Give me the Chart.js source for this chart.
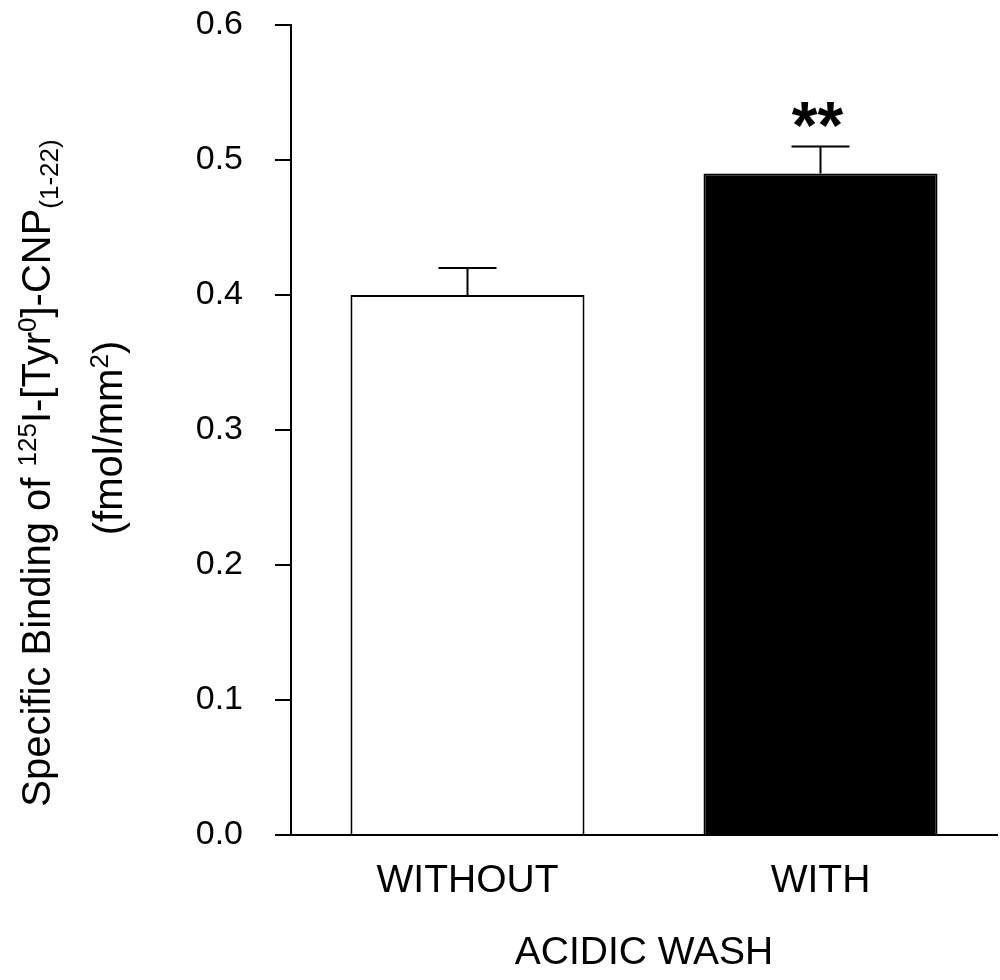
<!DOCTYPE html>
<html>
<head>
<meta charset="utf-8">
<script src="https://cdn.jsdelivr.net/npm/chart.js@4.4.0/dist/chart.umd.min.js"></script>
<style>
    html, body { margin: 0; padding: 0; background: #fff; }
    #wrap { width: 1000px; height: 980px; }
</style>
</head>
<body>
<div id="wrap"><canvas id="chart" width="1000" height="980"></canvas></div>
<script>
const categories = ['WITHOUT', 'WITH'];
const bindingMeans = [0.40, 0.49];
const bindingErrors = [0.02, 0.02];
const significance = ['', '**'];
const yTickLabels = ['0.0', '0.1', '0.2', '0.3', '0.4', '0.5', '0.6'];
const barColors = ['#ffffff', '#000000'];

const family = '"Liberation Sans", Arial, Helvetica, sans-serif';

// y axis title has super/subscripts, so it is drawn by hand
// kind: 0 normal, 1 superscript, -1 subscript
const yTitleLines = [
    { parts: [['Specific Binding of ', 0], ['125', 1], ['I-[Tyr', 0], ['0', 1], [']-CNP', 0], ['(1-22)', -1]], x: 50, cy: 473 },
    { parts: [['(fmol/mm', 0], ['2', 1], [')', 0]], x: 122, cy: 438 }
];

function drawRich(ctx, parts, baseX, centerY, size) {
    const small = Math.round(size * 0.65);
    const fontFor = k => (k === 0 ? size : small) + 'px ' + family;
    let total = 0;
    parts.forEach(p => {
        ctx.font = fontFor(p[1]);
        total += ctx.measureText(p[0]).width;
    });
    ctx.save();
    ctx.translate(baseX, centerY + total / 2);
    ctx.rotate(-Math.PI / 2);
    ctx.textBaseline = 'alphabetic';
    ctx.textAlign = 'left';
    ctx.fillStyle = '#000';
    let x = 0;
    parts.forEach(p => {
        ctx.font = fontFor(p[1]);
        const dy = p[1] === 1 ? -size * 0.36 : (p[1] === -1 ? size * 0.2 : 0);
        ctx.fillText(p[0], x, dy);
        x += ctx.measureText(p[0]).width;
    });
    ctx.restore();
}

const extras = {
    id: 'extras',
    afterDatasetsDraw(chart) {
        const ctx = chart.ctx;
        const yScale = chart.scales.y;
        const meta = chart.getDatasetMeta(0);
        ctx.save();
        ctx.strokeStyle = '#000';
        ctx.lineWidth = 2;
        meta.data.forEach((bar, i) => {
            const yTop = yScale.getPixelForValue(bindingMeans[i] + bindingErrors[i]);
            ctx.beginPath();
            ctx.moveTo(bar.x, bar.y);
            ctx.lineTo(bar.x, yTop);
            ctx.moveTo(bar.x - 29, yTop);
            ctx.lineTo(bar.x + 29, yTop);
            ctx.stroke();
            if (significance[i]) {
                ctx.font = 'bold 66px ' + family;
                ctx.textAlign = 'center';
                ctx.textBaseline = 'alphabetic';
                ctx.fillStyle = '#000';
                ctx.fillText(significance[i], bar.x - 3, yTop + 1);
            }
        });
        ctx.restore();
    },
    afterDraw(chart) {
        yTitleLines.forEach(l => drawRich(chart.ctx, l.parts, l.x, l.cy, 40));
    }
};

const myChart = new Chart(document.getElementById('chart'), {
    type: 'bar',
    data: {
        labels: categories,
        datasets: [{
            data: bindingMeans,
            backgroundColor: barColors,
            borderColor: '#000',
            borderWidth: 2,
            barPercentage: 0.663,
            categoryPercentage: 1
        }]
    },
    options: {
        responsive: false,
        animation: false,
        devicePixelRatio: 1,
        layout: { padding: { top: 25, right: 3, left: 0, bottom: 0 } },
        plugins: {
            legend: { display: false },
            tooltip: { enabled: false }
        },
        scales: {
            x: {
                grid: { display: false },
                border: { display: true, color: '#000', width: 2 },
                ticks: {
                    color: '#000',
                    font: { family: family, size: 39 },
                    padding: 15
                },
                title: {
                    display: true,
                    text: 'ACIDIC WASH',
                    color: '#000',
                    font: { family: family, size: 39 },
                    padding: { top: 0, bottom: 3 }
                },
                afterFit: s => { s.height = 145; }
            },
            y: {
                min: 0,
                max: 0.6,
                ticks: {
                    stepSize: 0.1,
                    color: '#000',
                    font: { family: family, size: 34 },
                    padding: 32,
                    callback: (v, i) => yTickLabels[i]
                },
                grid: {
                    drawOnChartArea: false,
                    color: '#000',
                    lineWidth: 2,
                    tickLength: 16
                },
                border: { display: true, color: '#000', width: 2 },
                afterFit: s => {
                    s.width = 291;
                    // tick padding would otherwise push the plot area down
                    s.paddingTop = 0;
                    s.paddingBottom = 0;
                }
            }
        }
    },
    plugins: [extras]
});
</script>
</body>
</html>
